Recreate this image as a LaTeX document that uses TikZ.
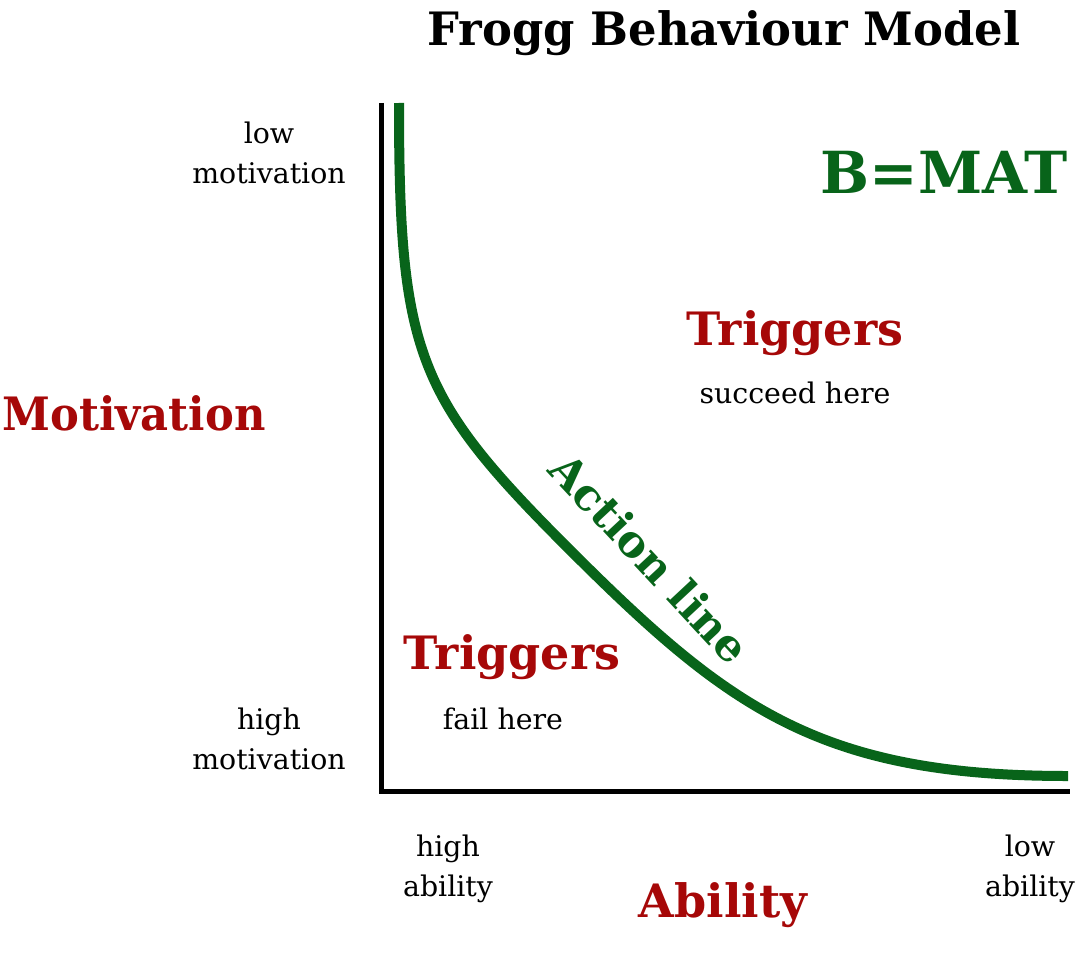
\documentclass[tikz,border=0pt]{standalone}
\usepackage{fontspec}
\setmainfont{DejaVu Serif}
\definecolor{fred}{RGB}{166,8,8}
\definecolor{fgreen}{RGB}{8,100,26}
\tikzset{
  small/.style={inner sep=0pt, align=center, text=black, font=\fontsize{14.2}{20}\selectfont},
  bigred/.style={inner sep=0pt, text=fred, font=\bfseries\fontsize{23}{26}\selectfont},
  axis/.style={line width=2.5pt, black},
  actioncurve/.style={line width=5pt, fgreen},
}
\begin{document}
\begin{tikzpicture}[x=0.5pt, y=-0.5pt]
\useasboundingbox (0,0) rectangle (1080,979);
% title
\node[inner sep=0pt, font=\bfseries\fontsize{23}{26}\selectfont] (title) at (724,33) {\scalebox{0.975}[1]{Frogg Behaviour Model}};
% axes
\coordinate (top) at (381,103);
\coordinate (origin) at (381,791);
\coordinate (right) at (1070,791);
\draw[axis] (top) -- (origin) -- (right);
% action line curve
\coordinate (c0) at (399,103);
\coordinate (c1) at (567,547);
\coordinate (c2) at (1068,776);
\draw[actioncurve] (c0) .. controls (399,353) and (417,397) .. (c1)
  .. controls (727,707) and (818,776) .. (c2);
% labels
\node[small] (lowmot) at (269,153) {low\\motivation};
\node[small] (highmot) at (269,739) {high\\motivation};
\node[bigred] (motivation) at (134,413) {\scalebox{0.94}[1]{Motivation}};
\node[inner sep=0pt, text=fgreen, font=\bfseries\fontsize{29}{32}\selectfont] (bmat) at (944,172) {B=MAT};
\node[bigred] (trigup) at (795,333) {Triggers};
\node[small] (succeed) at (795,393) {succeed here};
\node[small] (fail) at (503,719) {fail here};
\node[bigred] (triglow) at (512,657) {Triggers};
\node[inner sep=0pt, text=fgreen, font=\bfseries\fontsize{22}{24}\selectfont, rotate=-47] (action) at (650,558) {Action line};
\node[small] (highab) at (448,869) {high\\ability};
\node[small] (lowab) at (1030,869) {low\\ability};
\node[bigred] (ability) at (723,905) {Ability};
\end{tikzpicture}
\end{document}
